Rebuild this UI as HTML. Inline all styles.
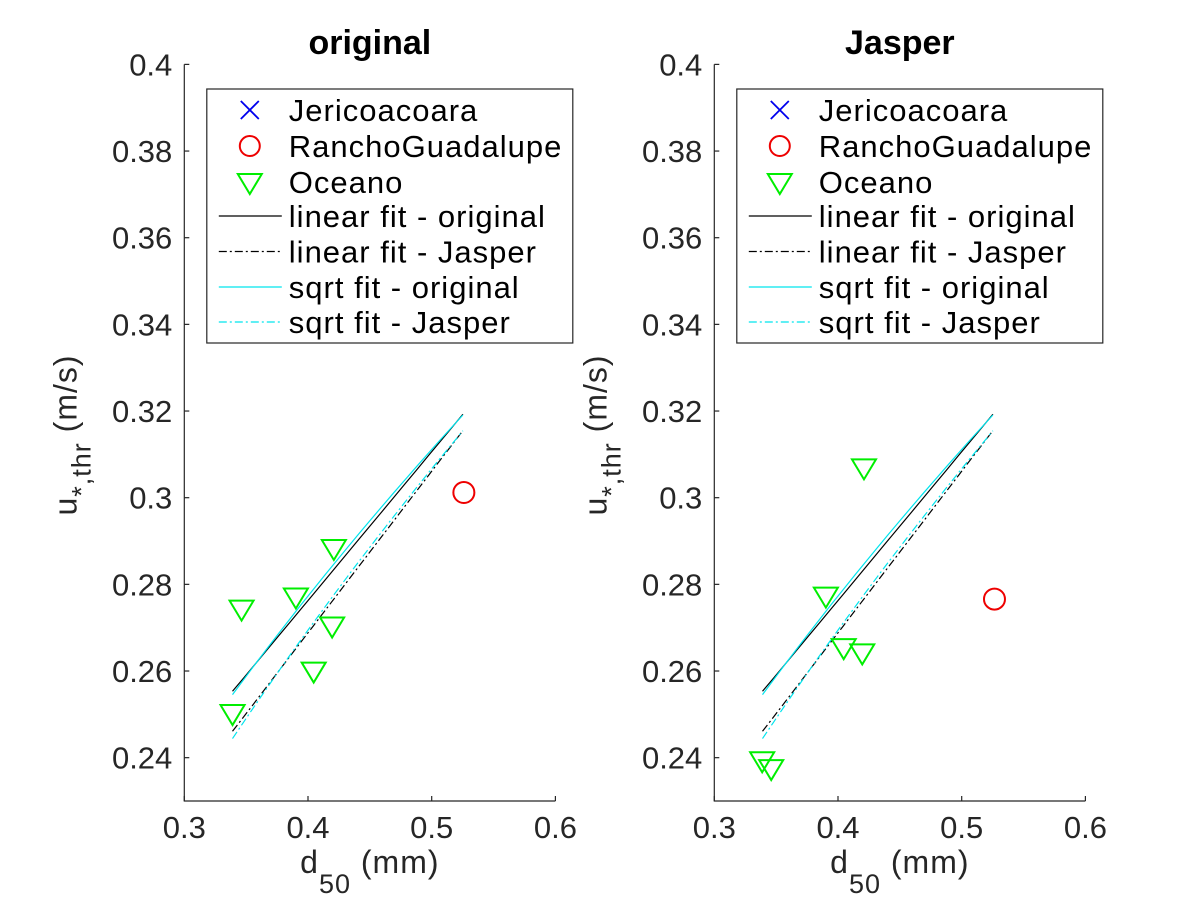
<!DOCTYPE html>
<html><head><meta charset="utf-8"><style>
body{margin:0;background:#fff;}
svg text{font-family:"Liberation Sans",Arial,sans-serif;fill:#262626;}
</style></head><body>
<svg id="fig" width="1200" height="900" viewBox="0 0 1200 900" xmlns="http://www.w3.org/2000/svg"></svg>
<script>
const yTicks=[0.24,0.26,0.28,0.3,0.32,0.34,0.36,0.38,0.4];
const yTickLabels=["0.24","0.26","0.28","0.3","0.32","0.34","0.36","0.38","0.4"];
const xTicks=[0.3,0.4,0.5,0.6];
const xTickLabels=["0.3","0.4","0.5","0.6"];
const panelTitles=["original","Jasper"];
// Oceano points per panel
const oceanoD_orig=[0.3463,0.3902,0.4209,0.4195,0.4046,0.339];
const oceanoU_orig=[0.2744,0.2772,0.2884,0.2705,0.2601,0.2503];
const oceanoD_jas=[0.421,0.3902,0.4046,0.4196,0.3387,0.346];
const oceanoU_jas=[0.3070,0.2774,0.2655,0.2643,0.2394,0.2376];
const ranchoD=[0.526,0.5265];
const ranchoU=[0.3012,0.2766];
// fits: linear u = m*d + c ; sqrt u = a*sqrt(d) + b
const fitRange=[0.339,0.5252];
const linOrig=[0.3434,0.1389];
const linJas=[0.3728,0.1197];
const sqrtOrig=[0.453,-0.0092];
const sqrtJas=[0.4986,-0.0459];

const NS="http://www.w3.org/2000/svg";
const svg=document.getElementById('fig');
function mk(tag,attrs,parent){const e=document.createElementNS(NS,tag);for(const k in attrs)e.setAttribute(k,attrs[k]);(parent||svg).appendChild(e);return e;}

const panels=[{x0:184.3,od:oceanoD_orig,ou:oceanoU_orig},{x0:714.3,od:oceanoD_jas,ou:oceanoU_jas}];
const yB=801, yPer=4333;
function Y(v){return yB-(v-0.23)*yPer;}

panels.forEach((p,pi)=>{
  const X=d=>p.x0+(d-0.3)*1237;
  const g=mk('g',{});
  
  
  const ax=mk('path',{d:`M${X(0.3)},${Y(0.4)} L${X(0.3)},${yB} L${X(0.6)},${yB}`,stroke:'#262626','stroke-width':1.2,fill:'none'},g);
  
  
  yTicks.forEach((v,i)=>{
    const t=mk('line',{x1:X(0.3),x2:X(0.3)+5,y1:Y(v),y2:Y(v),stroke:'#262626','stroke-width':1.2},g);
    
    
    const l=mk('text',{x:X(0.3)-12,y:Y(v)+11,'font-size':31,'text-anchor':'end'},g);
    
    
    l.textContent=yTickLabels[i];
  });
  xTicks.forEach((v,i)=>{
    const t=mk('line',{x1:X(v),x2:X(v),y1:yB,y2:yB-5,stroke:'#262626','stroke-width':1.2},g);
    
    
    const l=mk('text',{x:X(v),y:838,'font-size':31,'text-anchor':'middle'},g);
    
    
    l.textContent=xTickLabels[i];
  });
  const ti=mk('text',{x:X(0.45),y:54,'font-size':34,'font-weight':'bold','text-anchor':'middle',style:'fill:#000'},g);
  
  
  ti.textContent=panelTitles[pi];
  const xl=mk('text',{x:X(0.45),y:873,'font-size':32,'text-anchor':'middle','letter-spacing':1},g);
  
  
  xl.innerHTML='d<tspan dy="20" font-size="27">50</tspan><tspan dy="-20"> (mm)</tspan>';
  const yl=mk('text',{x:0,y:0,'font-size':32,'text-anchor':'middle','letter-spacing':1,transform:`translate(${p.x0-108},435) rotate(-90)`},g);
  
  
  yl.innerHTML='u<tspan dy="14" font-size="27">*,thr</tspan><tspan dy="-14"> (m/s)</tspan>';
  function curve(fn){let pts=[];for(let k=0;k<=20;k++){const d=fitRange[0]+(fitRange[1]-fitRange[0])*k/20;pts.push(X(d).toFixed(1)+','+Y(fn(d)).toFixed(1));}return pts.join(' ');}
  const fits=[
    [d=>linOrig[0]*d+linOrig[1],'#000','', 'linear-fit-original'],
    [d=>sqrtOrig[0]*Math.sqrt(d)+sqrtOrig[1],'#00e5ee','','sqrt-fit-original'],
    [d=>linJas[0]*d+linJas[1],'#000','8,3,2,3','linear-fit-jasper'],
    [d=>sqrtJas[0]*Math.sqrt(d)+sqrtJas[1],'#00e5ee','8,3,2,3','sqrt-fit-jasper']];
  fits.forEach(f=>{
    const pl=mk('polyline',{points:curve(f[0]),fill:'none',stroke:f[1],'stroke-width':1.2,'stroke-dasharray':f[2]||'none'},g);
    
    
  });
  p.od.forEach((d,i)=>{
    const cx=X(d),cy=Y(p.ou[i]);
    const tr=mk('polygon',{points:`${cx-12},${cy-8} ${cx+12},${cy-8} ${cx},${cy+12}`,fill:'none',stroke:'#00ee00','stroke-width':2},g);
    
    
  });
  const c=mk('circle',{cx:X(ranchoD[pi]),cy:Y(ranchoU[pi]),r:10.5,fill:'none',stroke:'#ee0000','stroke-width':2},g);
  
  
  const lx=p.x0+22.5, lg=mk('g',{},g);
  
  
  mk('rect',{x:lx,y:89,width:366,height:254,fill:'#fff',stroke:'#262626','stroke-width':1.2},lg);
  const labels=['Jericoacoara','RanchoGuadalupe','Oceano','linear fit - original','linear fit - Jasper','sqrt fit - original','sqrt fit - Jasper'];
  const ys=[110,146,182,216,251.5,287,322];
  const mx=lx+43;
  labels.forEach((t,i)=>{
    const tx=mk('text',{x:lx+82,y:ys[i]+11,'font-size':31,'letter-spacing':1,style:'fill:#000'},lg);
    
    
    tx.textContent=t;
  });
  mk('path',{d:`M${mx-9},${ys[0]-9} L${mx+9},${ys[0]+9} M${mx-9},${ys[0]+9} L${mx+9},${ys[0]-9}`,stroke:'#0000ee','stroke-width':1.8},lg);
  mk('circle',{cx:mx,cy:ys[1],r:10,fill:'none',stroke:'#ee0000','stroke-width':2},lg);
  mk('polygon',{points:`${mx-12},${ys[2]-8} ${mx+12},${ys[2]-8} ${mx},${ys[2]+12}`,fill:'none',stroke:'#00ee00','stroke-width':2},lg);
  [['#000','none'],['#000','8,3,2,3'],['#00e5ee','none'],['#00e5ee','8,3,2,3']].forEach((s,k)=>{
    mk('line',{x1:lx+12,x2:lx+75,y1:ys[3+k],y2:ys[3+k],stroke:s[0],'stroke-width':1.2,'stroke-dasharray':s[1]},lg);
  });
});
</script>
</body></html>
